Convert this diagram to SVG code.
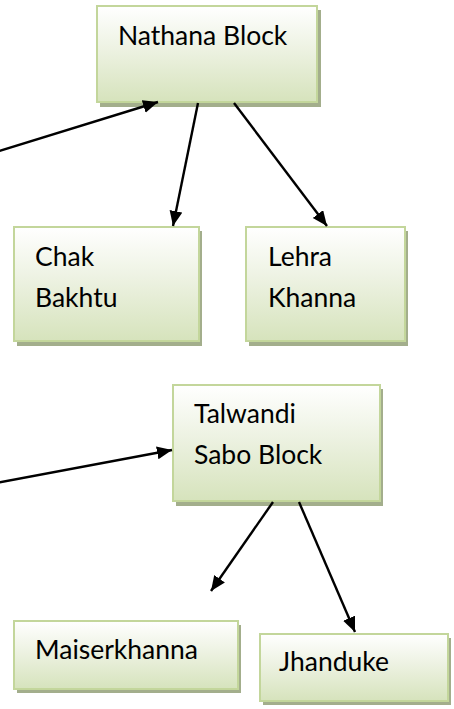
<svg xmlns="http://www.w3.org/2000/svg" width="454" height="709" viewBox="0 0 454 709">
<defs>
<linearGradient id="g" x1="0" y1="0" x2="0" y2="1">
<stop offset="0" stop-color="#ffffff"/>
<stop offset="0.45" stop-color="#edf2e2"/>
<stop offset="1" stop-color="#d6e3bc"/>
</linearGradient>
<marker id="ah" markerWidth="16" markerHeight="14" refX="15" refY="6.5" orient="auto" markerUnits="userSpaceOnUse">
<path d="M0,0 L15,6.5 L0,13 Z" fill="#000"/>
</marker>
</defs>
<style>
.sh{fill:#a3ae8c}
.bx{fill:url(#g);stroke:#c3d69b;stroke-width:2}
.t{font-family:Lato,"Open Sans",sans-serif;font-size:26.5px;fill:#000}
.c{stroke:#000;stroke-width:2.4;fill:none;marker-end:url(#ah)}
</style>
<g id="nathana">
<rect class="sh" x="100" y="10" width="221" height="97"/>
<rect class="bx" x="97" y="6" width="220" height="96"/>
<text class="t" x="118" y="45">Nathana Block</text>
</g>
<g id="chak">
<rect class="sh" x="17" y="231" width="185" height="115"/>
<rect class="bx" x="14" y="227" width="185" height="114"/>
<text class="t" x="35" y="266">Chak</text>
<text class="t" x="35" y="307">Bakhtu</text>
</g>
<g id="lehra">
<rect class="sh" x="249" y="231" width="159" height="115"/>
<rect class="bx" x="246" y="227" width="159" height="114"/>
<text class="t" x="268" y="266">Lehra</text>
<text class="t" x="268" y="307">Khanna</text>
</g>
<g id="talwandi">
<rect class="sh" x="176" y="389" width="207" height="117"/>
<rect class="bx" x="173" y="385" width="207" height="116"/>
<text class="t" x="194" y="423">Talwandi</text>
<text class="t" x="194" y="464">Sabo Block</text>
</g>
<g id="maiserkhanna">
<rect class="sh" x="17" y="625" width="224" height="68"/>
<rect class="bx" x="14" y="621" width="224" height="68"/>
<text class="t" x="35" y="659">Maiserkhanna</text>
</g>
<g id="jhanduke">
<rect class="sh" x="263" y="638" width="188" height="67"/>
<rect class="bx" x="260" y="634" width="188" height="67"/>
<text class="t" x="279" y="671">Jhanduke</text>
</g>
<g id="connectors">
<line class="c" x1="-4" y1="152" x2="158" y2="102"/>
<line class="c" x1="198" y1="103" x2="173" y2="226"/>
<line class="c" x1="234" y1="103" x2="327" y2="226"/>
<line class="c" x1="-4" y1="483" x2="172" y2="450"/>
<line class="c" x1="273" y1="502" x2="211" y2="591"/>
<line class="c" x1="299" y1="502" x2="355" y2="632"/>
</g>
</svg>
